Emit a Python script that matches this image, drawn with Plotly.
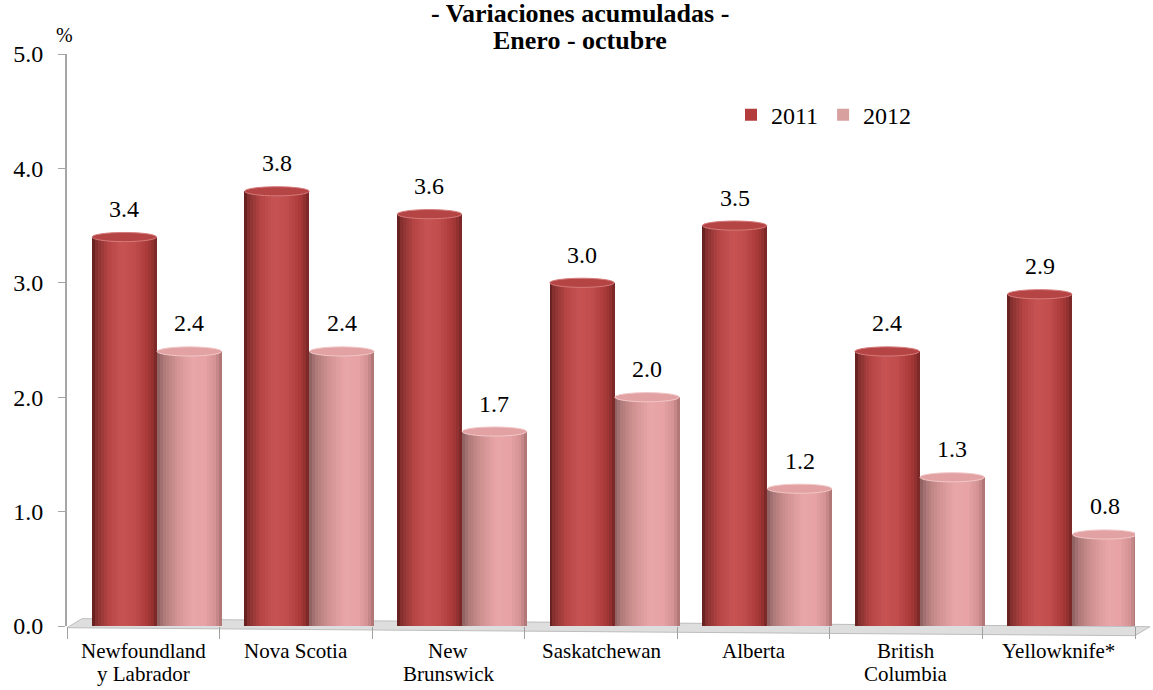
import plotly.graph_objects as go

# Data
categories = ["Newfoundland<br>y Labrador", "Nova Scotia", "New<br>Brunswick",
              "Saskatchewan", "Alberta", "British<br>Columbia", "Yellowknife*"]
series_names = ["2011", "2012"]
values_2011 = [3.4, 3.8, 3.6, 3.0, 3.5, 2.4, 2.9]
values_2012 = [2.4, 2.4, 1.7, 2.0, 1.2, 1.3, 0.8]
y_ticks = [0, 1, 2, 3, 4, 5]
title_lines = ["- Variaciones acumuladas -", "Enero - octubre"]

FONT = "Liberation Serif, Times New Roman, Times, serif"

# Cylinder look: each bar is built from narrow vertical strips shaded
# across its width, topped with an elliptical cap.
N_STRIPS = 22
BAR_W = 0.426
OFFSETS = {"2011": -0.3375, "2012": 0.0885}
SHADE = {
    "2011": [(0.0, "#5a1c1c"), (0.07, "#863030"), (0.25, "#b54444"), (0.45, "#c75353"),
             (0.65, "#c24d4d"), (0.85, "#aa3a3a"), (0.95, "#8e2e2e"), (1.0, "#6e2424")],
    "2012": [(0.0, "#8a5c5c"), (0.1, "#ad7a79"), (0.3, "#d19292"), (0.55, "#e9a6a9"),
             (0.75, "#e6a2a5"), (0.9, "#d39193"), (1.0, "#a87070")],
}
CAP = {"2011": ("#b54545", "#d67a7a"), "2012": ("#e2a2a4", "#f2c7c8")}
LEGEND_COLOR = {"2011": "#b33c3c", "2012": "#d9a0a0"}


def hex_to_rgb(h):
    h = h.lstrip("#")
    return tuple(int(h[i:i + 2], 16) for i in (0, 2, 4))


def shade_at(stops, t):
    for (p0, c0), (p1, c1) in zip(stops[:-1], stops[1:]):
        if p0 <= t <= p1:
            f = (t - p0) / (p1 - p0) if p1 > p0 else 0
            a, b = hex_to_rgb(c0), hex_to_rgb(c1)
            r = [round(a[i] + (b[i] - a[i]) * f) for i in range(3)]
            return "rgb(%d,%d,%d)" % tuple(r)
    return stops[-1][1]


fig = go.Figure()
series_values = {"2011": values_2011, "2012": values_2012}

for name in series_names:
    vals = series_values[name]
    step = BAR_W / N_STRIPS
    for k in range(N_STRIPS):
        col = shade_at(SHADE[name], (k + 0.5) / N_STRIPS)
        wk = step * (1.6 if k < N_STRIPS - 1 else 1.0)
        fig.add_trace(go.Bar(
            x=categories, y=vals, width=wk, offset=OFFSETS[name] + k * step,
            marker=dict(color=col, line=dict(width=0)),
            showlegend=False, hoverinfo="skip",
        ))
    # legend entry
    fig.add_trace(go.Bar(
        x=[None], y=[None], name=name,
        marker=dict(color=LEGEND_COLOR[name], line=dict(width=0)),
        showlegend=True,
    ))

shapes = []
annotations = []

# pixel helpers for decorations (plot area 67..1135 x, 626.3..53.8 y)
def px(x):
    return (x - 67) / 1068.0


def py(y):
    return (626.3 - y) / 572.5


# grey floor under the bars
floor = [(67, 628), (1135, 636), (1150, 627), (82, 619)]
path = "M " + " L ".join(f"{px(a):.4f},{py(b):.4f}" for a, b in floor) + " Z"
shapes.append(dict(type="path", xref="paper", yref="paper", path=path,
                   fillcolor="#dedede", line=dict(color="#bdbdbd", width=1),
                   layer="below"))

for name in series_names:
    vals = series_values[name]
    fill, rim = CAP[name]
    for i, v in enumerate(vals):
        x0 = i + OFFSETS[name]
        x1 = x0 + BAR_W
        shapes.append(dict(type="circle", xref="x", yref="y",
                           x0=x0 + 0.002, x1=x1 - 0.002, y0=v - 0.04, y1=v + 0.04,
                           fillcolor=fill, line=dict(color=rim, width=1)))
        annotations.append(dict(x=(x0 + x1) / 2, y=v, xref="x", yref="y",
                                text=f"{v:.1f}", showarrow=False, yshift=28,
                                font=dict(family=FONT, size=24, color="#000000")))

# category labels, one annotation per text line (tight line spacing)
for i, cat in enumerate(categories):
    for j, line in enumerate(cat.split("<br>")):
        annotations.append(dict(x=i, y=0, xref="x", yref="paper", yanchor="top",
                                yshift=-11 - 23 * j, showarrow=False, text=line,
                                font=dict(family=FONT, size=21, color="#000000")))

# title, two bold lines at the top of the page
title_shift = [24, -3]
for j, line in enumerate(title_lines):
    annotations.append(dict(xref="paper", yref="paper", x=px(580), y=1,
                            yanchor="bottom", yshift=title_shift[j], showarrow=False,
                            text=f"<b>{line}</b>",
                            font=dict(family=FONT, size=26, color="#000000")))
# unit label
annotations.append(dict(xref="paper", yref="paper", x=px(54), y=py(22),
                        showarrow=False, text="%",
                        font=dict(family=FONT, size=20, color="#000000")))

fig.update_layout(
    width=1153, height=690,
    margin=dict(l=67, r=18, t=54, b=64),
    paper_bgcolor="white", plot_bgcolor="white",
    barmode="overlay",
    bargap=0,
    font=dict(family=FONT, color="#000000"),
    shapes=shapes,
    annotations=annotations,
    legend=dict(orientation="h", x=px(731), y=py(115), xanchor="left", yanchor="middle",
                font=dict(family=FONT, size=24), itemwidth=30,
                bgcolor="rgba(0,0,0,0)"),
    xaxis=dict(
        type="category", categoryorder="array", categoryarray=categories,
        range=[-0.5, 6.5], tickson="boundaries", ticks="outside", ticklen=12,
        tickcolor="#a0a0a0", showline=False, showgrid=False, zeroline=False,
        showticklabels=False,
    ),
    yaxis=dict(
        range=[0, 5], tickvals=y_ticks, tickformat=".1f",
        showline=True, linecolor="#a6a6a6", linewidth=2,
        ticks="outside", ticklen=7, tickcolor="#a6a6a6",
        showgrid=False, zeroline=False,
        tickfont=dict(family=FONT, size=24), ticklabelstandoff=10,
    ),
)

fig.write_html("out.html")
